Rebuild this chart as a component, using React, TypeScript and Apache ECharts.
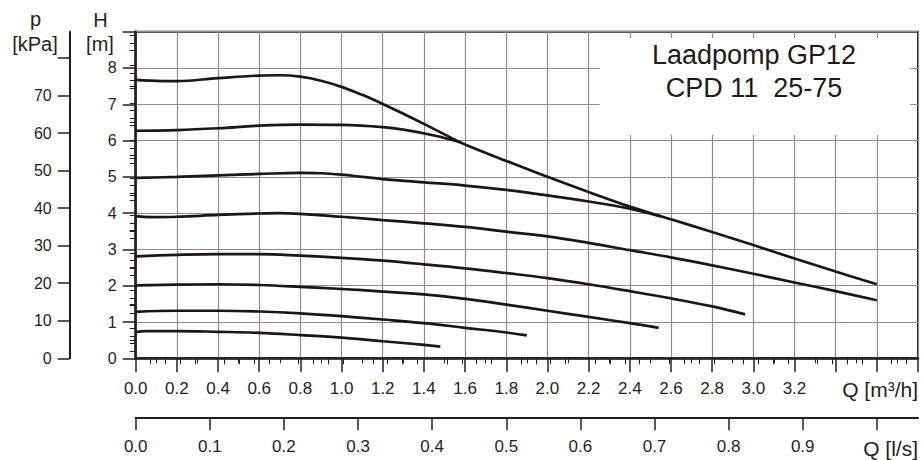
import React, { useEffect, useRef } from "react";
import * as echarts from "echarts";

const FONT = "'Liberation Sans', Arial, Helvetica, sans-serif";
const INK = "#231f20";
const GRID_C = "#958a8a";

// axes ranges
const qMax = 3.8; // m3/h
const hMax = 9; // m
const pMax = 87; // kPa
const lsMax = qMax / 3.6; // l/s

// tick labels
const qLabelMax = 3.2;
const hLabelMax = 8;
const pTicks = [0, 10, 20, 30, 40, 50, 60, 70, 80];
const pLabels = [0, 10, 20, 30, 40, 50, 60, 70];
const lsTicks = [0, 0.1, 0.2, 0.3, 0.4, 0.5, 0.6, 0.7, 0.8, 0.9, 1.0];
const lsLabels = [0, 0.1, 0.2, 0.3, 0.4, 0.5, 0.6, 0.7, 0.8, 0.9];

// pump curves [Q m3/h, H m]
const curve1 = [[0, 7.67], [0.13, 7.64], [0.2, 7.64], [0.4, 7.72], [0.6, 7.79], [0.7, 7.8], [0.8, 7.76], [0.9, 7.65], [1.0, 7.48], [1.1, 7.26], [1.2, 7.01], [1.3, 6.74], [1.4, 6.46], [1.5, 6.17], [1.6, 5.89], [1.8, 5.44], [2.0, 5.0], [2.2, 4.58], [2.4, 4.18], [2.6, 3.83], [2.8, 3.48], [3.0, 3.12], [3.2, 2.75], [3.4, 2.39], [3.6, 2.04]];
const curve2 = [[0, 6.27], [0.2, 6.29], [0.4, 6.34], [0.6, 6.41], [0.8, 6.44], [1.0, 6.43], [1.2, 6.37], [1.3, 6.3], [1.45, 6.14], [1.58, 5.95]];
const curve3 = [[0, 4.97], [0.2, 5.0], [0.4, 5.04], [0.6, 5.08], [0.8, 5.11], [0.9, 5.1], [1.0, 5.06], [1.1, 5.0], [1.2, 4.94], [1.4, 4.85], [1.6, 4.76], [1.8, 4.64], [2.0, 4.49], [2.2, 4.32], [2.4, 4.12], [2.55, 3.91]];
const curve4 = [[0, 3.92], [0.07, 3.89], [0.2, 3.9], [0.4, 3.95], [0.6, 3.99], [0.7, 4.0], [0.8, 3.98], [1.0, 3.9], [1.2, 3.81], [1.4, 3.72], [1.6, 3.62], [1.8, 3.49], [2.0, 3.36], [2.2, 3.18], [2.4, 2.98], [2.6, 2.78], [2.8, 2.56], [3.0, 2.33], [3.2, 2.09], [3.4, 1.85], [3.6, 1.6]];
const curve5 = [[0, 2.81], [0.2, 2.85], [0.4, 2.87], [0.6, 2.87], [0.8, 2.83], [1.0, 2.77], [1.2, 2.69], [1.4, 2.59], [1.6, 2.48], [1.8, 2.35], [2.0, 2.21], [2.2, 2.04], [2.4, 1.85], [2.6, 1.65], [2.8, 1.43], [2.96, 1.21]];
const curve6 = [[0, 2.01], [0.2, 2.03], [0.4, 2.04], [0.6, 2.02], [0.8, 1.97], [1.0, 1.91], [1.2, 1.84], [1.4, 1.76], [1.6, 1.64], [1.8, 1.48], [2.0, 1.31], [2.2, 1.14], [2.4, 0.97], [2.54, 0.84]];
const curve7 = [[0, 1.28], [0.2, 1.31], [0.4, 1.31], [0.6, 1.29], [0.8, 1.24], [1.0, 1.16], [1.2, 1.07], [1.4, 0.97], [1.6, 0.84], [1.8, 0.71], [1.9, 0.63]];
const curve8 = [[0, 0.72], [0.05, 0.75], [0.2, 0.75], [0.4, 0.73], [0.6, 0.7], [0.8, 0.64], [1.0, 0.57], [1.2, 0.47], [1.4, 0.37], [1.48, 0.32]];
const curves = [curve1, curve2, curve3, curve4, curve5, curve6, curve7, curve8];

const titleLines = ["Laadpomp GP12", "CPD 11  25-75"];

// minor tick values (every 2 kPa, every 0.02 l/s, skipping majors)
const pMinor: number[] = [];
for (let v = 2; v < pMax; v += 2) if (v % 10 !== 0) pMinor.push(v);
const lsMinor: number[] = [];
for (let i = 1; i * 0.02 < lsMax; i++) if (i % 5 !== 0) lsMinor.push(+(i * 0.02).toFixed(2));

export default function App() {
  const ref = useRef<HTMLDivElement>(null);
  useEffect(() => {
    if (!ref.current) return;
    const chart = echarts.init(ref.current, undefined, { renderer: "svg" });
    const labelStyle = { color: INK, fontFamily: FONT };
    chart.setOption({
      animation: false,
      backgroundColor: "#ffffff",
      grid: {
        left: 135.7,
        right: 5,
        top: 31.7,
        bottom: 101.7,
        show: true,
        borderColor: INK,
        borderWidth: 2,
        backgroundColor: "transparent",
      },
      xAxis: [
        {
          type: "value",
          min: 0,
          max: qMax,
          interval: 0.2,
          position: "bottom",
          axisLine: { show: true, onZero: false, lineStyle: { color: INK, width: 2.5 } },
          axisTick: { show: true, length: 14, lineStyle: { color: INK, width: 1.5 } },
          minorTick: { show: true, splitNumber: 2, length: 5, lineStyle: { color: INK, width: 1 } },
          splitLine: { show: true, lineStyle: { color: GRID_C, width: 1.2 } },
          axisLabel: {
            ...labelStyle,
            fontSize: 17,
            margin: 22,
            formatter: (v: number) => (v <= qLabelMax + 1e-6 ? v.toFixed(1) : ""),
          },
        },
        {
          type: "value",
          min: 0,
          max: lsMax,
          position: "bottom",
          offset: 59,
          axisLine: { show: true, onZero: false, lineStyle: { color: INK, width: 2 } },
          axisTick: { show: true, length: 13, customValues: lsTicks, lineStyle: { color: INK, width: 1.5 } },
          splitLine: { show: false },
          axisLabel: {
            ...labelStyle,
            fontSize: 17,
            margin: 21,
            customValues: lsLabels,
            formatter: (v: number) => v.toFixed(1),
          },
        },
        {
          type: "value",
          min: 0,
          max: lsMax,
          position: "bottom",
          offset: 59,
          axisLine: { show: false },
          axisTick: { show: true, length: 6, customValues: lsMinor, lineStyle: { color: INK, width: 1 } },
          splitLine: { show: false },
          axisLabel: { show: false },
        },
      ],
      yAxis: [
        {
          type: "value",
          min: 0,
          max: hMax,
          interval: 1,
          position: "left",
          axisLine: { show: true, onZero: false, lineStyle: { color: INK, width: 2.5 } },
          axisTick: { show: true, length: 13, lineStyle: { color: INK, width: 1.5 } },
          minorTick: { show: true, splitNumber: 2, length: 6, lineStyle: { color: INK, width: 1 } },
          splitLine: { show: true, lineStyle: { color: GRID_C, width: 1.2 } },
          axisLabel: {
            ...labelStyle,
            fontSize: 16,
            margin: 19,
            formatter: (v: number) => (v <= hLabelMax ? String(v) : ""),
          },
        },
        {
          type: "value",
          min: 0,
          max: pMax,
          position: "left",
          offset: 66,
          axisLine: { show: true, onZero: false, lineStyle: { color: INK, width: 2 } },
          axisTick: { show: true, length: 12, customValues: pTicks, lineStyle: { color: INK, width: 1.5 } },
          splitLine: { show: false },
          axisLabel: {
            ...labelStyle,
            fontSize: 16,
            margin: 18,
            customValues: pLabels,
            formatter: (v: number) => String(v),
          },
        },
        {
          type: "value",
          min: 0,
          max: pMax,
          position: "left",
          offset: 66,
          axisLine: { show: false },
          axisTick: { show: true, length: 6, customValues: pMinor, lineStyle: { color: INK, width: 1 } },
          splitLine: { show: false },
          axisLabel: { show: false },
        },
      ],
      series: curves.map((c) => ({
        type: "line",
        xAxisIndex: 0,
        yAxisIndex: 0,
        data: c,
        smooth: 0.4,
        showSymbol: false,
        symbol: "none",
        lineStyle: { color: "#1c1516", width: 2.7 },
        z: 5,
      })),
      graphic: [
        {
          type: "rect",
          z: 50,
          shape: { x: 599.5, y: 38, width: 310.5, height: 97 },
          style: { fill: "#ffffff" },
        },
        ...titleLines.map((t, i) => ({
          type: "text",
          z: 51,
          x: 754,
          y: 55 + i * 32.5,
          style: {
            text: t,
            fontSize: 27,
            fontFamily: FONT,
            fill: "#1f1a1b",
            align: "center",
            verticalAlign: "middle",
          },
        })),
        { type: "text", z: 51, x: 100.5, y: 20, style: { text: "H", fontSize: 20, fontFamily: FONT, fill: INK, align: "center", verticalAlign: "middle" } },
        { type: "text", z: 51, x: 100, y: 44, style: { text: "[m]", fontSize: 20, fontFamily: FONT, fill: INK, align: "center", verticalAlign: "middle" } },
        { type: "text", z: 51, x: 35.5, y: 19, style: { text: "p", fontSize: 20, fontFamily: FONT, fill: INK, align: "center", verticalAlign: "middle" } },
        { type: "text", z: 51, x: 35, y: 44, style: { text: "[kPa]", fontSize: 20, fontFamily: FONT, fill: INK, align: "center", verticalAlign: "middle" } },
        { type: "text", z: 51, x: 918, y: 389, style: { text: "Q [m³/h]", fontSize: 21, fontFamily: FONT, fill: INK, align: "right", verticalAlign: "middle" } },
        { type: "text", z: 51, x: 918, y: 448, style: { text: "Q [l/s]", fontSize: 21, fontFamily: FONT, fill: INK, align: "right", verticalAlign: "middle" } },
      ],
    });
    return () => chart.dispose();
  }, []);
  return (
    <div
      ref={ref}
      style={{ position: "absolute", left: 0, top: 0, width: 923, height: 460 }}
    />
  );
}
